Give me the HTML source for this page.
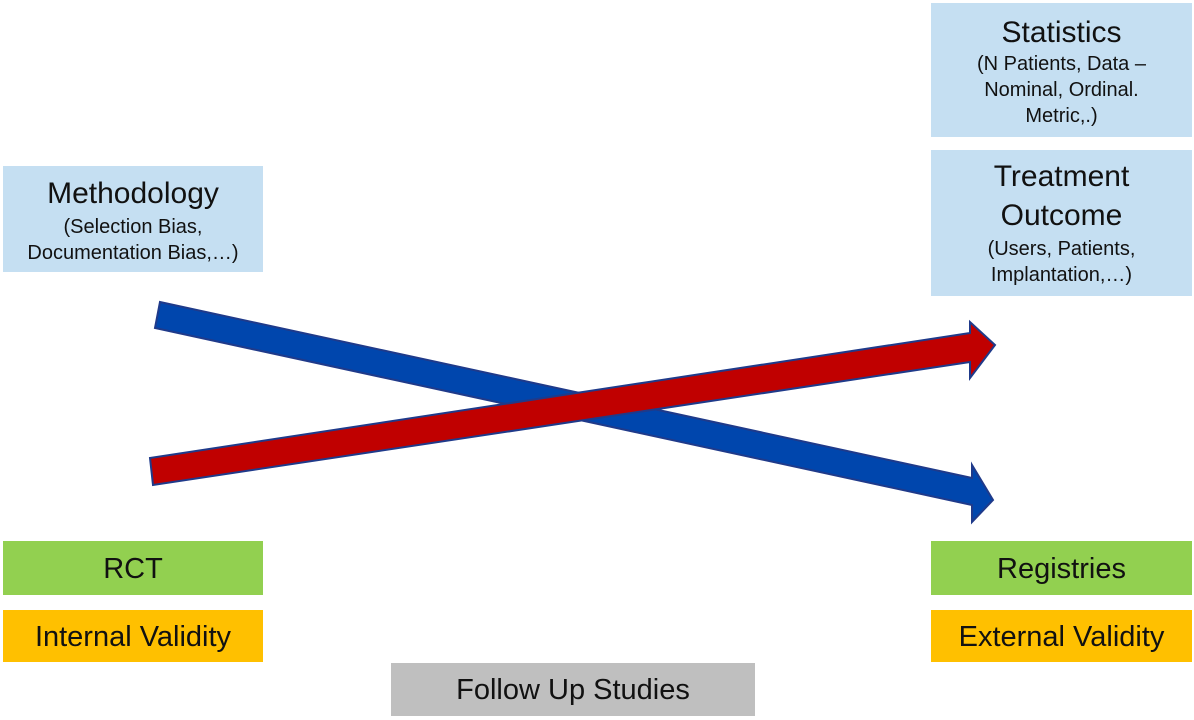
<!DOCTYPE html>
<html><head><meta charset="utf-8"><style>
body{margin:0;width:1194px;height:720px;background:#fff;position:relative;overflow:hidden;font-family:"Liberation Sans",sans-serif;color:#111}
.b{position:absolute;text-align:center;box-sizing:border-box}
.lb{background:#c5dff2}
.g{background:#92d050;font-size:29px;line-height:56px}
.o{background:#ffc000;font-size:29px;line-height:54px}
.t{font-size:30px;line-height:39px}
.s{font-size:20px;line-height:26px}
</style></head><body>
<div class="b lb" style="left:931px;top:3px;width:261px;height:134px;padding-top:10px"><div class="t">Statistics</div><div class="s" style="margin-top:-1px">(N Patients, Data –<br>Nominal, Ordinal.<br>Metric,.)</div></div>
<div class="b lb" style="left:931px;top:150px;width:261px;height:146px;padding-top:7px"><div class="t">Treatment<br>Outcome</div><div class="s" style="margin-top:1px">(Users, Patients,<br>Implantation,…)</div></div>
<div class="b lb" style="left:3px;top:166px;width:260px;height:106px;padding-top:8px"><div class="t">Methodology</div><div class="s" style="margin-top:1px">(Selection Bias,<br>Documentation Bias,…)</div></div>
<div class="b g" style="left:3px;top:541px;width:260px;height:54px">RCT</div>
<div class="b o" style="left:3px;top:610px;width:260px;height:52px">Internal Validity</div>
<div class="b g" style="left:931px;top:541px;width:261px;height:54px">Registries</div>
<div class="b o" style="left:931px;top:610px;width:261px;height:52px">External Validity</div>
<div class="b" style="left:391px;top:663px;width:364px;height:53px;background:#bfbfbf;font-size:29px;line-height:55px">Follow Up Studies</div>
<svg width="1194" height="720" style="position:absolute;left:0;top:0">
<polygon points="160,302 972,478 972,465 993,500 972,522 972,505 155,328" fill="#0046ad" stroke="#1f3a8a" stroke-width="2"/>
<polygon points="150,458 970,333 970,322 995,345 970,378 970,362 153,485" fill="#c00000" stroke="#1f3a8a" stroke-width="2"/>
</svg>
</body></html>
